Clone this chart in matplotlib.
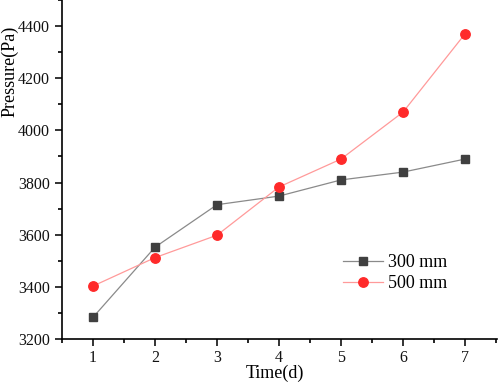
import matplotlib
matplotlib.use("Agg")
import matplotlib.pyplot as plt
from matplotlib.ticker import MultipleLocator

plt.rcParams['font.family'] = ['Liberation Serif', 'DejaVu Serif']

days = [1, 2, 3, 4, 5, 6, 7]
p300 = [3283, 3552, 3715, 3748, 3810, 3840, 3890]
p500 = [3403, 3512, 3598, 3783, 3890, 4070, 4370]
labels = ["300 mm", "500 mm"]

fig = plt.figure(figsize=(4.98, 3.82), dpi=100)
ax = fig.add_axes([0.1245, 0.1126, 0.874, 0.8874])

ax.plot(days, p300, color='#8a8a8a', lw=0.9, marker='s', ms=5.5,
        mfc='#404040', mec='#404040', label=labels[0], zorder=3)
ax.plot(days, p500, color='#ff9a9a', lw=0.9, marker='o', ms=6.8,
        mfc='#ff2a2a', mec='#ff2a2a', label=labels[1], zorder=3)

ax.set_xlim(0.5, 7.52)
ax.set_ylim(3200, 4500)
ax.xaxis.set_major_locator(MultipleLocator(1))
ax.xaxis.set_minor_locator(MultipleLocator(0.5))
ax.set_yticks([3200, 3400, 3600, 3800, 4000, 4200, 4400])
ax.yaxis.set_minor_locator(MultipleLocator(100))

for s in ['top', 'right']:
    ax.spines[s].set_visible(False)
for s in ['left', 'bottom']:
    ax.spines[s].set_linewidth(1.2)
ax.tick_params(which='major', direction='out', length=5, width=1.2, labelsize=11.5,
               colors='#111111')
ax.tick_params(axis='x', which='major', pad=3)
ax.tick_params(axis='y', which='major', pad=3.5)
ax.tick_params(which='minor', direction='out', length=3, width=1.2)

ax.set_xlabel("Time(d)", fontsize=13)
ax.set_ylabel("Pressure(Pa)", fontsize=13)
ax.xaxis.set_label_coords(0.49, -0.076)
ax.yaxis.set_label_coords(-0.101, 0.79)

ax.legend(loc='upper left', bbox_to_anchor=(0.646, 0.25), frameon=False,
          borderaxespad=0, borderpad=0,
          fontsize=13, handlelength=2.2, handletextpad=0.28, labelspacing=0.2)

fig.savefig("out.png", dpi=100)
